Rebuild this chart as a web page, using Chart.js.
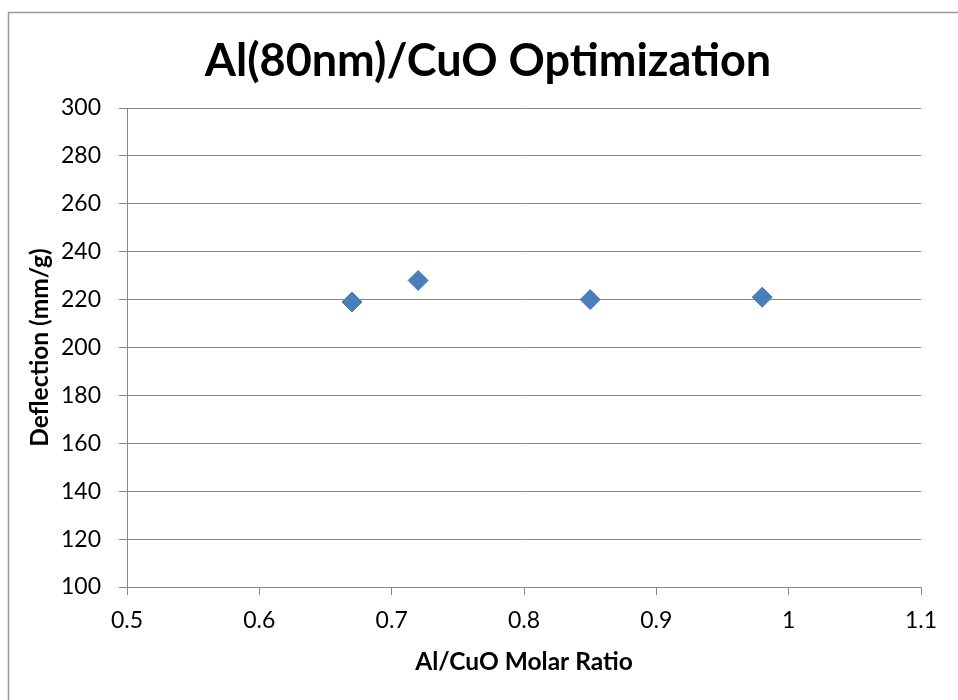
<!DOCTYPE html>
<html>
<head>
<meta charset="utf-8">
<script src="https://cdn.jsdelivr.net/npm/chart.js@4"></script>
<style>
  body { margin: 0; background: #fff; }
</style>
</head>
<body>
<canvas id="myChart" width="958" height="700"></canvas>
<script>
// data
const molarRatio = [0.67, 0.72, 0.85, 0.98];
const deflection = [219, 228, 220, 221];

const xTicks = [0.5, 0.6, 0.7, 0.8, 0.9, 1, 1.1];
const yTicks = [100, 120, 140, 160, 180, 200, 220, 240, 260, 280, 300];

const points = molarRatio.map((x, i) => ({ x: x, y: deflection[i] }));

// white page, grey frame round the chart, and the title centred on the frame
const frame = {
  id: 'frame',
  afterLayout(chart) {
    chart.titleBlock.left = 18;
    chart.titleBlock.right = 958;
  },
  beforeDraw(chart) {
    const c = chart.ctx;
    c.save();
    c.fillStyle = '#fff';
    c.fillRect(0, 0, chart.width, chart.height);
    c.strokeStyle = '#9a9a9a';
    c.lineWidth = 1.5;
    c.strokeRect(8.5, 12.5, chart.width + 10, chart.height + 10);
    c.restore();
  }
};

const ctx = document.getElementById('myChart');

new Chart(ctx, {
  type: 'scatter',
  data: {
    datasets: [
      {
        label: 'Deflection',
        data: points,
        pointStyle: 'rectRot',
        pointRadius: 10,
        pointHoverRadius: 10,
        backgroundColor: '#4A7EBB',
        borderColor: '#4A7EBB',
        borderWidth: 1
      }
    ]
  },
  options: {
    responsive: false,
    animation: false,
    layout: {
      padding: { left: 0, right: 37, top: 0, bottom: 0 }
    },
    plugins: {
      legend: { display: false },
      tooltip: { enabled: false },
      title: {
        display: true,
        text: 'Al(80nm)/CuO Optimization',
        color: '#000',
        font: { family: 'Lato', size: 45, weight: 'bold', lineHeight: 1.2 },
        padding: { top: 34, bottom: 20 }
      }
    },
    scales: {
      x: {
        type: 'linear',
        min: 0.5,
        max: 1.1,
        afterBuildTicks: scale => { scale.ticks = xTicks.map(v => ({ value: v })); },
        afterFit: scale => { scale.height = 113; },
        ticks: {
          color: '#000',
          font: { family: 'Lato', size: 23 },
          padding: 12,
          maxRotation: 0,
          callback: v => String(v)
        },
        grid: {
          drawOnChartArea: false,
          color: '#888',
          tickLength: 8
        },
        border: { color: '#888' },
        title: {
          display: true,
          text: 'Al/CuO Molar Ratio',
          color: '#000',
          font: { family: 'Lato', size: 24.5, weight: 'bold' },
          padding: { top: 4, bottom: 23 }
        }
      },
      y: {
        min: 100,
        max: 300,
        afterBuildTicks: scale => { scale.ticks = yTicks.map(v => ({ value: v })); },
        afterFit: scale => { scale.width = 127; },
        ticks: {
          color: '#000',
          font: { family: 'Lato', size: 23 },
          padding: 18,
          callback: v => String(v)
        },
        grid: {
          color: '#888',
          tickLength: 8
        },
        border: { color: '#888' },
        title: {
          display: true,
          text: 'Deflection (mm/g)',
          color: '#000',
          font: { family: 'Lato', size: 24.5, weight: 'bold' },
          padding: { top: 25, bottom: 4 }
        }
      }
    }
  },
  plugins: [frame]
});
</script>
</body>
</html>
